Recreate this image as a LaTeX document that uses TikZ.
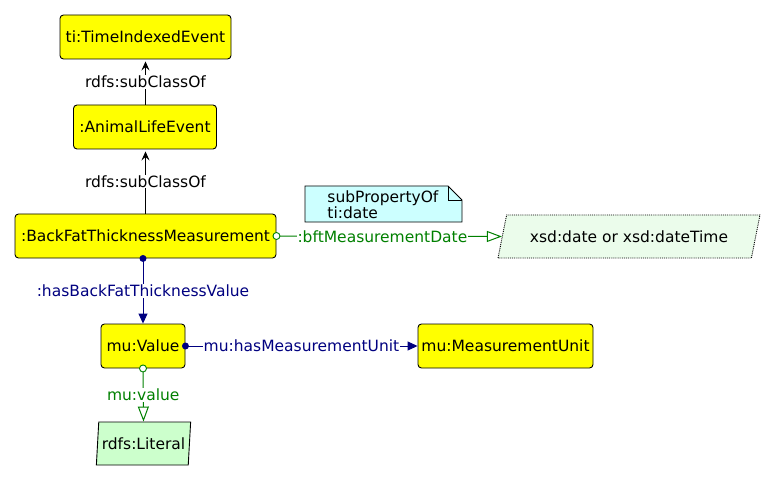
\documentclass[tikz,border=0pt]{standalone}
\usepackage{fontspec}
\setmainfont{DejaVu Sans}
\usetikzlibrary{arrows.meta,shapes.geometric}

\begin{document}
\begin{tikzpicture}[x=1pt,y=1pt,yscale=-1,xscale=1,line width=0.9pt,
  cls/.style={draw, rounded corners=3.5pt, fill={rgb, 255:red, 255; green, 255; blue, 0 }, minimum height=44pt, inner sep=0pt, font=\fontsize{15.5}{17}\selectfont},
  dtype/.style={trapezium, trapezium stretches=true, draw, minimum height=43pt, inner sep=0pt, font=\fontsize{15.5}{17}\selectfont},
  lbl/.style={fill=white, inner sep=1pt, font=\fontsize{15.5}{17}\selectfont},
  subcls/.style={-{Stealth[length=9pt,width=8pt,inset=3.5pt]}, shorten >=2pt},
  objprop/.style={color={rgb, 255:red, 0; green, 0; blue, 128 }, -{Triangle[length=10pt,width=9pt]}},
  dataprop/.style={color={rgb, 255:red, 0; green, 128; blue, 0 }, line width=1pt, -{Triangle[open,length=15pt,width=11pt]}},
  dot/.style={circle, fill={rgb, 255:red, 0; green, 0; blue, 128 }, inner sep=0pt, minimum size=7pt},
  ring/.style={circle, draw={rgb, 255:red, 0; green, 128; blue, 0 }, fill=white, inner sep=0pt, minimum size=7pt}]
\useasboundingbox (0,0) rectangle (776,481);

%Shape: Rectangle [tie]
\node (tie) [cls, minimum width=171pt] at (145.5,37) {ti:TimeIndexedEvent};
%Shape: Rectangle [ale]
\node (ale) [cls, minimum width=143pt] at (145,127) {:AnimalLifeEvent};
%Shape: Rectangle [bft]
\node (bft) [cls, minimum width=261pt] at (145.5,236) {:BackFatThicknessMeasurement};
%Shape: Rectangle [val]
\node (val) [cls, minimum width=84pt] at (143,346) {mu:Value};
%Shape: Rectangle [unit]
\node (unit) [cls, minimum width=175pt] at (505.5,346) {mu:MeasurementUnit};
%Shape: Parallelogram [lit]
\node (lit) [dtype, minimum width=95pt, trapezium left angle=79.5, trapezium right angle=100.5, fill={rgb, 255:red, 204; green, 255; blue, 204 }] at (143.5,443.5) {rdfs:Literal};
%Shape: Parallelogram [xsd]
\node (xsd) [dtype, densely dotted, minimum width=262pt, trapezium left angle=60, trapezium right angle=120, fill={rgb, 255:red, 235; green, 252; blue, 235 }] at (629,236.5) {xsd:date or xsd:dateTime};

%Shape: Note
\draw [fill={rgb, 255:red, 204; green, 255; blue, 255 }] (305,186) -- (448,186) -- (462,200) -- (462,222) -- (305,222) -- cycle ;
\draw (448,186) -- (448,200) -- (462,200) ;
% Text Node
\node (note) [anchor=west, align=left, inner sep=0pt, font=\fontsize{15.5}{15}\selectfont] at (327,205) {subPropertyOf\\ti:date};

%Straight Lines [subClassOf]
\draw [subcls] (ale.north -| 145.5,0) -- node [lbl] {rdfs:subClassOf} (tie.south -| 145.5,0) ;
\draw [subcls] (bft.north -| 145.5,0) -- node [lbl] {rdfs:subClassOf} (ale.south -| 145.5,0) ;

%Straight Lines [object properties]
\draw [objprop] (bft.south -| val.north) -- node [lbl, text={rgb, 255:red, 0; green, 0; blue, 128 }] {:hasBackFatThicknessValue} (val.north) ;
\node (d1) [dot] at (bft.south -| val.north) {};
\draw [objprop] (val.east) -- node [lbl, text={rgb, 255:red, 0; green, 0; blue, 128 }] {mu:hasMeasurementUnit} (unit.west) ;
\node (d2) [dot] at (val.east) {};

%Straight Lines [datatype properties]
\draw [dataprop] (bft.east) -- node [lbl, pos=0.47, text={rgb, 255:red, 0; green, 128; blue, 0 }] {:bftMeasurementDate} (xsd.west) ;
\node (r1) [ring] at (bft.east) {};
\draw [dataprop] (val.south) -- node [lbl, pos=0.5, text={rgb, 255:red, 0; green, 128; blue, 0 }] {mu:value} (lit.north) ;
\node (r2) [ring] at (val.south) {};

\end{tikzpicture}
\end{document}
